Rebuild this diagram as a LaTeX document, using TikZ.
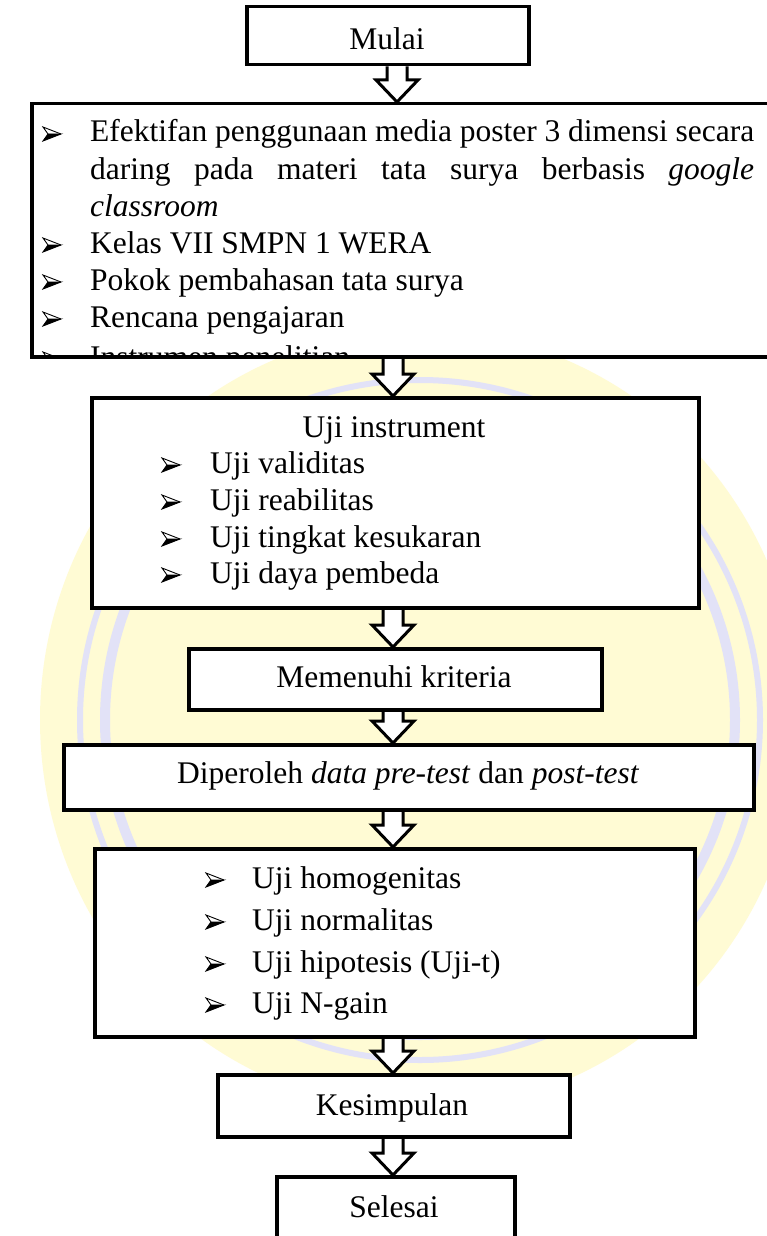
\documentclass[tikz,border=0pt]{standalone}
\usepackage{fontspec}
\setmainfont{Liberation Serif}
\usetikzlibrary{calc}
\pgfdeclarelayer{bg}
\pgfdeclarelayer{arrowlayer}
\pgfsetlayers{bg,arrowlayer,main}
\definecolor{wmyellow}{RGB}{255,251,212}
\definecolor{wmlav}{RGB}{226,226,247}
\tikzset{
  box/.style={draw, line width=3.5pt, fill=white, inner sep=0pt, line join=miter, anchor=north west},
  txt/.style={inner sep=0pt, font=\fontsize{31.5}{37}\selectfont},
  pics/bulletmark/.style={code={
    \filldraw[line width=0.9pt, line join=miter] (0,-1) -- (18,-8) -- (5,-8) -- cycle;
    \draw[line width=0.9pt, line join=miter] (5,-8) -- (0,-15) -- (18,-8);
  }},
  hollowarrow/.style={draw, line width=3pt, fill=white, line join=miter,
    to path={let \p1=(\tikztostart), \p2=(\tikztotarget) in
      (\x1-10pt,\y1) -- (\x1-10pt,\y2+22pt) -- (\x1-21pt,\y2+22pt) -- (\x2,\y2)
      -- (\x1+21pt,\y2+22pt) -- (\x1+10pt,\y2+22pt) -- (\x1+10pt,\y1)}}
}
\begin{document}
\begin{tikzpicture}[x=1pt,y=-1pt]
\useasboundingbox (0,0) rectangle (766,1236);
% watermark (faint)
\begin{pgfonlayer}{bg}
  \fill[white] (0,0) rectangle (766,1236);
  \fill[wmyellow] (420,720) ellipse [x radius=380, y radius=390];
  \draw[wmlav, line width=10pt] (420,720) circle (315);
  \draw[wmlav, line width=6pt] (420,720) circle (340);
\end{pgfonlayer}
% boxes
\node[box, minimum width=282, minimum height=58] (mulai) at (245,5) {};
\node[box, minimum width=770, minimum height=253] (scope) at (30,102) {};
\node[box, minimum width=607, minimum height=210] (instr) at (90,396) {};
\node[box, minimum width=413, minimum height=61] (krit) at (187,647) {};
\node[box, minimum width=690, minimum height=65] (data) at (62,743) {};
\node[box, minimum width=600, minimum height=188] (anal) at (93,847) {};
\node[box, minimum width=352, minimum height=62] (kes) at (216,1073) {};
\node[box, minimum width=238, minimum height=95] (sel) at (275,1175) {};
% texts
\node[txt, anchor=base] (tmulai) at (387,50) {Mulai};
\begin{scope}
  \clip ([shift={(2pt,-2pt)}]scope.north west) rectangle ([shift={(-2pt,2pt)}]scope.south east);
  \pic at (43,142) {bulletmark};
  \node[txt, anchor=base west] (l1) at (90,142) {\makebox[664pt][s]{Efektifan penggunaan media poster 3 dimensi secara}};
  \node[txt, anchor=base west] (l2) at (90,179) {\makebox[664pt][s]{daring pada materi tata surya berbasis \textit{google}}};
  \node[txt, anchor=base west] (l3) at (90,216) {\textit{classroom}};
  \pic at (43,253) {bulletmark};
  \node[txt, anchor=base west] (l4) at (90,253) {Kelas VII SMPN 1 WERA};
  \pic at (43,290) {bulletmark};
  \node[txt, anchor=base west] (l5) at (90,290) {Pokok pembahasan tata surya};
  \pic at (43,327) {bulletmark};
  \node[txt, anchor=base west] (l6) at (90,327) {Rencana pengajaran};
  \pic at (43,367) {bulletmark};
  \node[txt, anchor=base west] (l7) at (90,367) {Instrumen penelitian};
\end{scope}
\node[txt, anchor=base] (t3) at (394,437) {Uji instrument};
\pic at (162,473) {bulletmark};
\node[txt, anchor=base west] (u1) at (210,473) {Uji validitas};
\pic at (162,510) {bulletmark};
\node[txt, anchor=base west] (u2) at (210,510) {Uji reabilitas};
\pic at (162,547) {bulletmark};
\node[txt, anchor=base west] (u3) at (210,547) {Uji tingkat kesukaran};
\pic at (162,583) {bulletmark};
\node[txt, anchor=base west] (u4) at (210,583) {Uji daya pembeda};
\node[txt, anchor=base] (t4) at (394,687) {Memenuhi kriteria};
\node[txt, anchor=base west] (t5) at (177,783) {Diperoleh \textit{data pre-test} dan \textit{post-test}};
\pic at (206,888) {bulletmark};
\node[txt, anchor=base west] (v1) at (252,888) {Uji homogenitas};
\pic at (206,930) {bulletmark};
\node[txt, anchor=base west] (v2) at (252,930) {Uji normalitas};
\pic at (206,972) {bulletmark};
\node[txt, anchor=base west] (v3) at (252,972) {Uji hipotesis (Uji-t)};
\pic at (206,1013) {bulletmark};
\node[txt, anchor=base west] (v4) at (252,1013) {Uji N-gain};
\node[txt, anchor=base] (t7) at (392,1115) {Kesimpulan};
\node[txt, anchor=base] (t8) at (394,1217) {Selesai};
% arrows
\coordinate (ax1) at (397,0);
\coordinate (ax) at (393,0);
\begin{pgfonlayer}{arrowlayer}
  \path[hollowarrow] (mulai.south -| ax1) to (scope.north -| ax1);
  \path[hollowarrow] (scope.south -| ax) to (instr.north -| ax);
  \path[hollowarrow] (instr.south -| ax) to (krit.north -| ax);
  \path[hollowarrow] (krit.south -| ax) to (data.north -| ax);
  \path[hollowarrow] (data.south -| ax) to (anal.north -| ax);
  \path[hollowarrow] (anal.south -| ax) to (kes.north -| ax);
  \path[hollowarrow] (kes.south -| ax) to (sel.north -| ax);
\end{pgfonlayer}
\end{tikzpicture}
\end{document}
